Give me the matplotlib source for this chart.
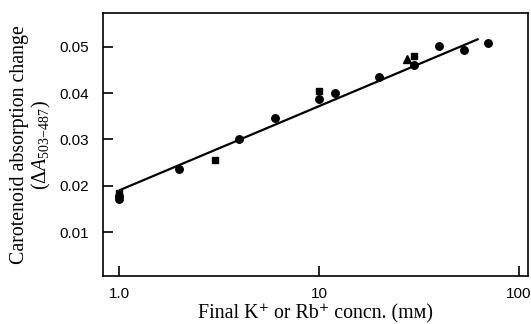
import matplotlib
matplotlib.use("Agg")
import matplotlib.pyplot as plt
from matplotlib.ticker import FixedLocator, FixedFormatter, NullLocator

# Data
circle_x = [1.0, 1.0, 2.0, 4.0, 6.0, 10, 12, 20, 30, 40, 53, 70]
circle_y = [0.0172, 0.0178, 0.0236, 0.0301, 0.0347, 0.0388, 0.0401, 0.0434, 0.0461, 0.0502, 0.0494, 0.0509]
square_x = [1.0, 3.0, 10, 30]
square_y = [0.0184, 0.0256, 0.0404, 0.0479]
triangle_x = [27.5]
triangle_y = [0.0473]
fit_x = [1.0, 63]
fit_y = [0.0190, 0.0517]

x_ticks = [1.0, 10, 100]
x_tick_labels = ["1.0", "10", "100"]
y_ticks = [0.01, 0.02, 0.03, 0.04, 0.05]
y_tick_labels = ["0.01", "0.02", "0.03", "0.04", "0.05"]

plt.rcParams['mathtext.fontset'] = 'custom'
plt.rcParams['mathtext.rm'] = 'Liberation Serif'
plt.rcParams['mathtext.it'] = 'Liberation Serif:italic'

fig = plt.figure(figsize=(5.31, 3.24), dpi=100)
ax = fig.add_axes([0.194, 0.148, 0.800, 0.812])

ax.plot(fit_x, fit_y, color='black', lw=1.6, solid_capstyle='butt')
ax.plot(circle_x, circle_y, 'o', color='black', ms=5.4, mec='black')
ax.plot(square_x, square_y, 's', color='black', ms=4.8, mec='black')
ax.plot(triangle_x, triangle_y, '^', color='black', ms=5.4, mec='black')

ax.set_xscale('log')
ax.set_xlim(0.83, 111)
ax.set_ylim(0.0005, 0.0573)

ax.xaxis.set_major_locator(FixedLocator(x_ticks))
ax.xaxis.set_major_formatter(FixedFormatter(x_tick_labels))
ax.xaxis.set_minor_locator(NullLocator())
ax.yaxis.set_major_locator(FixedLocator(y_ticks))
ax.yaxis.set_major_formatter(FixedFormatter(y_tick_labels))

ax.tick_params(axis='both', direction='in', length=7, width=1.2, color='black',
               labelsize=11)
ax.tick_params(axis='y', pad=10)
ax.tick_params(axis='x', pad=8)
for lab in ax.get_xticklabels() + ax.get_yticklabels():
    lab.set_family(['Liberation Sans', 'DejaVu Sans'])

for s in ax.spines.values():
    s.set_linewidth(1.2)
    s.set_color('black')

ax.set_xlabel("Final K\u207a or Rb\u207a concn. (m\u1d0d)",
              family=['Liberation Serif', 'DejaVu Serif'], fontsize=14.3, labelpad=2)
ax.set_ylabel("Carotenoid absorption change\n($\\Delta A_{503\\!-\\!487}$)",
              family=['Liberation Serif', 'DejaVu Serif'], fontsize=14.3,
              labelpad=5, linespacing=1.05)

fig.savefig("out.png", dpi=100)
